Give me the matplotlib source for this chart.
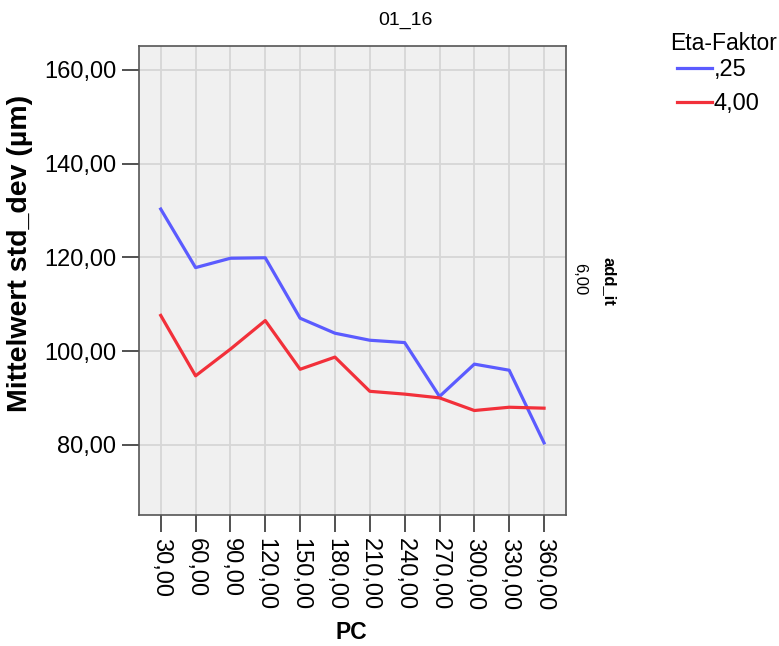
import matplotlib
matplotlib.use("Agg")
import matplotlib.pyplot as plt
from matplotlib.lines import Line2D

plt.rcParams['font.family'] = ['Liberation Sans', 'DejaVu Sans']

pc = [30, 60, 90, 120, 150, 180, 210, 240, 270, 300, 330, 360]
eta_025 = [130.3, 117.8, 119.8, 119.9, 107.0, 103.8, 102.3, 101.8, 90.3, 97.2, 95.9, 80.4]
eta_400 = [107.6, 94.7, 100.4, 106.5, 96.1, 98.7, 91.4, 90.8, 90.0, 87.3, 88.0, 87.8]
series_labels = [',25', '4,00']
y_ticks = [80, 100, 120, 140, 160]

def fmt(v):
    return f"{v:.2f}".replace('.', ',')

blue = '#5b5bff'
red = '#f2303a'

fig = plt.figure(figsize=(7.79, 6.46), dpi=100)
ax = fig.add_axes([139/779, 1-515/646, (566-139)/779, (515-46)/646])
ax.set_facecolor('#f0f0f0')

ax.plot(pc, eta_025, color=blue, lw=2.3, zorder=3)
ax.plot(pc, eta_400, color=red, lw=2.3, zorder=3)

ax.set_xlim(11.3, 378.9)
ax.set_ylim(65.0, 165.1)
ax.set_xticks(pc)
ax.set_xticklabels([fmt(v) for v in pc], rotation=-90, fontsize=17)
ax.set_yticks(y_ticks)
ax.set_yticklabels([fmt(v) for v in y_ticks], fontsize=17)
ax.tick_params(axis='both', length=12.5, width=1.2, color='#333333', pad=4)
ax.grid(True, color='#d6d6d6', lw=1.3, zorder=1)
ax.set_axisbelow(True)
for s in ax.spines.values():
    s.set_color('#555555')
    s.set_linewidth(1.2)

ax.set_xlabel('PC', fontsize=16.5, fontweight='bold')
ax.xaxis.set_label_coords((351-139)/427, (515-621)/469)
ax.set_ylabel('Mittelwert std_dev (µm)', fontsize=20.5, fontweight='bold')
ax.yaxis.set_label_coords((33-139)/427, (515-253)/469)

fig.text(405/779, 1-20/646, '01_16', ha='center', va='center', fontsize=14)
fig.text(580/779, 1-279/646, '6,00', ha='center', va='center', rotation=-90, fontsize=12)
fig.text(609/779, 1-281/646, 'add_it', ha='center', va='center', rotation=-90,
         fontsize=12, fontweight='bold')

fig.text(670/779, 1-43/646, 'Eta-Faktor', ha='left', va='center', fontsize=16.5)
handles = [Line2D([], [], color=blue, lw=2.3), Line2D([], [], color=red, lw=2.3)]
leg = fig.legend(handles, series_labels, loc='upper left',
                 bbox_to_anchor=(677/779, 1-59/646), frameon=False, fontsize=17,
                 handlelength=1.5, handletextpad=0.05,
                 labelspacing=0.5, borderpad=0, borderaxespad=0)

fig.savefig('out.png', dpi=100)
